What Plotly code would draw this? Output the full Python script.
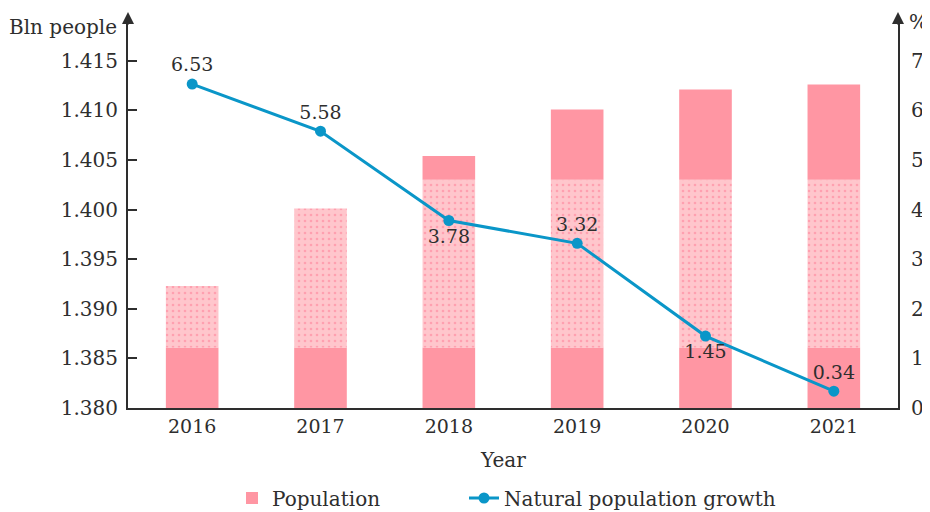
import plotly.graph_objects as go

years = ["2016", "2017", "2018", "2019", "2020", "2021"]
population = [1.3923, 1.4001, 1.4054, 1.4101, 1.4121, 1.4126]
growth = [6.53, 5.58, 3.78, 3.32, 1.45, 0.34]
growth_label_pos = ["top center", "top center", "bottom center", "top center", "bottom center", "top center"]
left_ticks = [1.380, 1.385, 1.390, 1.395, 1.400, 1.405, 1.410, 1.415]
right_ticks = [0, 1, 2, 3, 4, 5, 6, 7]

Y_MIN = 1.380
BAND_LOW = 1.3861
BAND_HIGH = 1.403

SOLID = "#FF96A3"
LIGHT = "#FFC6CC"
DOT = "#FFA0B0"
LINE = "#0A96C8"
TXT = "#2E2E2E"
FONT = "DejaVu Serif"

seg1_base = [Y_MIN for _ in population]
seg1_h = [min(v, BAND_LOW) - Y_MIN for v in population]
seg2_base = [BAND_LOW for _ in population]
seg2_h = [max(min(v, BAND_HIGH) - BAND_LOW, 0) for v in population]
seg3_base = [BAND_HIGH for _ in population]
seg3_h = [max(v - BAND_HIGH, 0) for v in population]

# page offset (browser body margin)
OFF = 8
W, H = 930 - OFF, 512 - OFF
L, R, T, B = 128 - OFF, 32, 20 - OFF, 512 - 408
plot_w = W - L - R
plot_h = H - T - B


def px(xs):
    return (xs - 128) / plot_w


def py(ys):
    return (408 - ys) / plot_h


fig = go.Figure()
fig.add_trace(go.Bar(x=years, y=seg1_h, base=seg1_base, width=0.41,
                     marker=dict(color=SOLID, line=dict(width=0)),
                     name="Population", legendgroup="pop", showlegend=True, legend="legend"))
fig.add_trace(go.Bar(x=years, y=seg2_h, base=seg2_base, width=0.41,
                     marker=dict(color=LIGHT, line=dict(width=0),
                                 pattern=dict(shape=".", bgcolor=LIGHT, fgcolor=DOT,
                                              size=6, solidity=0.15, fillmode="replace")),
                     name="Population", legendgroup="pop", showlegend=False))
fig.add_trace(go.Bar(x=years, y=seg3_h, base=seg3_base, width=0.41,
                     marker=dict(color=SOLID, line=dict(width=0)),
                     name="Population", legendgroup="pop", showlegend=False))
fig.add_trace(go.Scatter(x=years, y=growth, yaxis="y2", mode="lines+markers+text",
                         line=dict(color=LINE, width=3),
                         marker=dict(color=LINE, size=11),
                         text=[f"{g:.2f}" for g in growth],
                         textposition=growth_label_pos,
                         textfont=dict(family=FONT, size=19, color=TXT),
                         name="Natural population growth", legend="legend2"))

top_left = Y_MIN + plot_h / 49.6 * 0.005
top_right = plot_h / 49.6

leg_common = dict(orientation="h", xanchor="left", yanchor="middle", y=py(498),
                  font=dict(family=FONT, size=20, color=TXT), bgcolor="rgba(0,0,0,0)")

fig.update_layout(
    width=W, height=H,
    margin=dict(l=L, r=R, t=T, b=B, autoexpand=False),
    paper_bgcolor="white", plot_bgcolor="white",
    barmode="overlay",
    font=dict(family=FONT, size=19, color=TXT),
    showlegend=True,
    legend=dict(x=px(232), **leg_common),
    legend2=dict(x=px(464), **leg_common),
    xaxis=dict(range=[-0.5, 5.5], showline=True, linecolor=TXT, linewidth=2,
               ticks="", showgrid=False, zeroline=False, automargin=False,
               tickfont=dict(family=FONT, size=19, color=TXT)),
    yaxis=dict(range=[Y_MIN, top_left], showline=True, linecolor=TXT, linewidth=2,
               ticks="inside", ticklen=9, tickwidth=2, tickcolor=TXT, automargin=False,
               tickvals=left_ticks, tickformat=".3f", showgrid=False, zeroline=False,
               ticklabelstandoff=4,
               tickfont=dict(family=FONT, size=20, color=TXT)),
    yaxis2=dict(range=[0, top_right], overlaying="y", side="right", showline=True,
                linecolor=TXT, linewidth=2, ticks="", tickvals=right_ticks, automargin=False,
                showgrid=False, zeroline=False, ticklabelstandoff=7,
                tickfont=dict(family=FONT, size=20, color=TXT)),
)

ann = [
    dict(text="Bln people", xref="paper", yref="paper", x=0, y=py(27),
         xanchor="right", yanchor="middle", xshift=-9, showarrow=False,
         font=dict(family=FONT, size=20, color=TXT)),
    dict(text="%", xref="paper", yref="paper", x=1, y=py(22),
         xanchor="left", yanchor="middle", xshift=9, showarrow=False,
         font=dict(family=FONT, size=20, color=TXT)),
    dict(text="Year", xref="paper", yref="paper", x=px(503), y=py(460),
         xanchor="center", yanchor="middle", showarrow=False,
         font=dict(family=FONT, size=20, color=TXT)),
]
for xp in [0, 1]:
    ann.append(dict(text="", xref="paper", yref="paper", x=xp, y=py(12),
                    ax=0, ay=14, showarrow=True, arrowhead=2, arrowsize=1.2,
                    arrowwidth=2, arrowcolor=TXT))
fig.update_layout(annotations=ann)

fig.write_html("out.html")
